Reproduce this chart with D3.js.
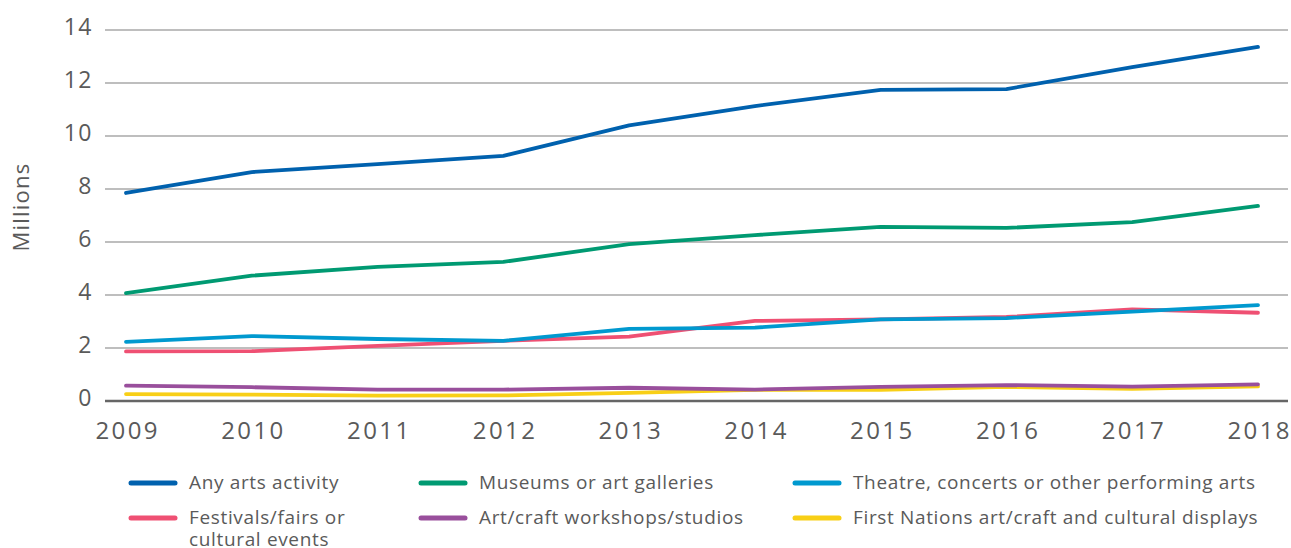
<!DOCTYPE html>
<html>
<head>
<meta charset="utf-8">
<script src="https://cdn.jsdelivr.net/npm/d3@7"></script>
<style>
  body { margin: 0; background: #fff; }
  text { font-family: "Open Sans", sans-serif; fill: #5a5a5a; }
</style>
</head>
<body>
<div id="chart-area"></div>
<script>
// Data
var years = [2009, 2010, 2011, 2012, 2013, 2014, 2015, 2016, 2017, 2018];
var anyArts    = [7.85, 8.64, 8.94, 9.25, 10.4, 11.13, 11.74, 11.77, 12.6, 13.36];
var museums    = [4.07, 4.73, 5.06, 5.25, 5.92, 6.26, 6.57, 6.53, 6.75, 7.36];
var theatre    = [2.23, 2.45, 2.34, 2.27, 2.72, 2.77, 3.08, 3.13, 3.37, 3.62];
var festivals  = [1.87, 1.88, 2.08, 2.27, 2.43, 3.02, 3.08, 3.17, 3.46, 3.33];
var workshops  = [0.58, 0.52, 0.43, 0.43, 0.5, 0.43, 0.53, 0.6, 0.54, 0.63];
var firstNations = [0.26, 0.24, 0.2, 0.21, 0.31, 0.42, 0.42, 0.53, 0.46, 0.55];
var yTicks = [0, 2, 4, 6, 8, 10, 12, 14];

var series = [
    { name: "Any arts activity", values: anyArts, color: "#0061ae" },
    { name: "Museums or art galleries", values: museums, color: "#009a72" },
    { name: "Theatre, concerts or other performing arts", values: theatre, color: "#0099cf" },
    { name: "Festivals/fairs or|cultural events", values: festivals, color: "#ef5073" },
    { name: "Art/craft workshops/studios", values: workshops, color: "#994f9c" },
    { name: "First Nations art/craft and cultural displays", values: firstNations, color: "#f8cf16" }
];

var W = 1291, H = 548;
var svg = d3.select("#chart-area")
    .append("svg")
        .attr("width", W)
        .attr("height", H);

// Scales
var x = d3.scalePoint()
    .domain(years)
    .range([126, 1258]);

var y = d3.scaleLinear()
    .domain([0, 14])
    .range([401, 30]);

// Gridlines
svg.append("g")
    .selectAll("line")
    .data(yTicks.filter(function(d){ return d > 0; }))
    .enter().append("line")
        .attr("x1", 105)
        .attr("x2", 1288)
        .attr("y1", function(d){ return y(d); })
        .attr("y2", function(d){ return y(d); })
        .attr("stroke", "#a8a8a8")
        .attr("stroke-width", 1.3);

// Y axis
var yAxisCall = d3.axisLeft(y)
    .tickValues(yTicks)
    .tickSize(0)
    .tickPadding(0)
    .tickFormat(function(d){ return d; });
var yAxis = svg.append("g")
    .attr("transform", "translate(93,0)")
    .call(yAxisCall);
yAxis.select(".domain").remove();
yAxis.selectAll("text")
    .attr("font-size", "23px")
    .attr("dy", "0.2em")
    .style("letter-spacing", "1.5px")
    .style("font-family", "'Open Sans', sans-serif")
    .attr("fill", "#5a5a5a");

// X axis
var xAxisCall = d3.axisBottom(x)
    .tickSize(0)
    .tickPadding(0);
var xAxis = svg.append("g")
    .attr("transform", "translate(0,401)")
    .call(xAxisCall);
xAxis.select(".domain").remove();
xAxis.selectAll("text")
    .attr("y", 38)
    .attr("dx", "1.2px")
    .attr("dy", 0)
    .attr("font-size", "24px")
    .style("letter-spacing", "2.4px")
    .style("font-family", "'Open Sans', sans-serif")
    .attr("fill", "#5a5a5a");

// Baseline
svg.append("line")
    .attr("x1", 105)
    .attr("x2", 1288)
    .attr("y1", y(0))
    .attr("y2", y(0))
    .attr("stroke", "#666")
    .attr("stroke-width", 2.5);

// Y label
svg.append("text")
    .attr("transform", "translate(29,207) rotate(-90)")
    .attr("text-anchor", "middle")
    .attr("font-size", "22px")
    .style("letter-spacing", "1.2px")
    .text("Millions");

// Lines
var line = d3.line()
    .x(function(d, i){ return x(years[i]); })
    .y(function(d){ return y(d); });

series.slice().reverse().forEach(function(s){
    svg.append("path")
        .datum(s.values)
        .attr("fill", "none")
        .attr("stroke", s.color)
        .attr("stroke-width", 3.8)
        .attr("stroke-linecap", "round")
        .attr("stroke-linejoin", "round")
        .attr("d", line);
});

// Legend
var legendX = [131, 421, 795];
var legendY = [483, 518];
series.forEach(function(s, i){
    var col = i % 3, row = Math.floor(i / 3);
    var g = svg.append("g")
        .attr("transform", "translate(" + legendX[col] + "," + legendY[row] + ")");
    g.append("line")
        .attr("x1", 0)
        .attr("x2", 44)
        .attr("stroke", s.color)
        .attr("stroke-width", 5)
        .attr("stroke-linecap", "round");
    // each wrapped line is its own text
    s.name.split("|").forEach(function(part, j){
        g.append("text")
            .attr("x", 58)
            .attr("y", 6 + j * 22)
            .attr("font-size", "19px")
            .style("letter-spacing", "0.65px")
            .text(part);
    });
});
</script>
</body>
</html>
